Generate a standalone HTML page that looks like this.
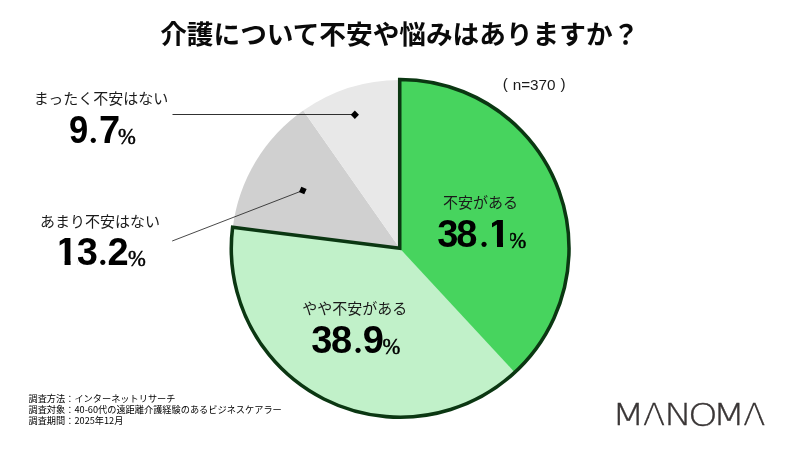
<!DOCTYPE html>
<html lang="ja">
<head>
<meta charset="utf-8">
<title>介護について不安や悩みはありますか？</title>
<style>
html,body{margin:0;padding:0;background:#fff;}
body{width:800px;height:450px;position:relative;overflow:hidden;font-family:"Liberation Sans","Noto Sans CJK JP",sans-serif;color:#111;}
.abs{position:absolute;white-space:nowrap;line-height:1;}
#title{left:-0.3px;width:800px;top:20px;text-align:center;font-family:"Noto Sans CJK JP","Liberation Sans",sans-serif;font-weight:700;font-size:26.67px;color:#0a0a0a;}
.lbl{font-family:"Noto Sans CJK JP","Liberation Sans",sans-serif;font-weight:400;font-size:15px;color:#1a1a1a;}
#foot{left:28.5px;top:392.9px;font-family:"Noto Sans CJK JP","Liberation Sans",sans-serif;font-size:9.2px;line-height:11.2px;color:#000;white-space:nowrap;}
svg{position:absolute;left:0;top:0;}
</style>
</head>
<body>
<svg width="800" height="450" viewBox="0 0 800 450">
  <!-- grey slices -->
  <path d="M400,248.4 L232.83,227.28 A168.5,168.5 0 0 1 303.23,110.46 Z" fill="#d0d0d0"/>
  <path d="M400,248.4 L303.23,110.46 A168.5,168.5 0 0 1 400,79.90 Z" fill="#e8e8e8"/>
  <!-- green slices -->
  <path d="M399.73,248.35 L399.73,79.48 A168.87,168.87 0 1 1 232.61,227.24 Z" fill="#c1f1c9"/>
  <path d="M399.73,248.35 L399.73,79.48 A168.87,168.87 0 0 1 514.75,372.38 Z" fill="#47d45e"/>
  <path d="M399.73,248.35 L399.73,79.48 A168.87,168.87 0 1 1 232.61,227.24 Z" fill="none" stroke="#0b3712" stroke-width="3.55" stroke-linejoin="miter"/>
  <!-- leader lines -->
  <line x1="172.5" y1="114.5" x2="355" y2="114.5" stroke="#1a1a1a" stroke-width="0.9"/>
  <path d="M0,-4.2 L4.1,0 L0,4.2 L-4.1,0 Z" fill="#000" transform="translate(354.85,114.7)"/>
  <line x1="172.2" y1="241" x2="302.8" y2="190.5" stroke="#1a1a1a" stroke-width="0.8"/>
  <path d="M0,-4.1 L4.1,0 L0,4.1 L-4.1,0 Z" fill="#000" transform="translate(302.8,190.5) rotate(-21)"/>
  <!-- numbers -->
  <defs>
    <clipPath id="c13"><rect x="59.63" y="225" width="10.97" height="35.7"/><rect x="64.58" y="260" width="6.02" height="8"/><rect x="77.9" y="225" width="120" height="50"/></clipPath>
    <clipPath id="c38"><rect x="430" y="205" width="58.5" height="50"/><rect x="492.03" y="205" width="10.97" height="38.1"/><rect x="496.98" y="242.5" width="6.02" height="8"/><rect x="510.2" y="205" width="40" height="50"/></clipPath>
    <clipPath id="cl"><path clip-rule="evenodd" d="M600,390 H790 V440 H600 Z M654.02,405.04 L663.48,429.02 H644.57 Z M754.22,405.04 L763.68,429.02 H744.77 Z"/></clipPath>
  </defs>
  <style>
    .n{font-family:"Liberation Sans",sans-serif;font-weight:700;font-size:38px;fill:#000;}
    .d{font-family:"Noto Sans CJK JP","Liberation Sans",sans-serif;font-size:28px;}
    .p{font-family:"Liberation Serif",serif;font-weight:400;font-size:23px;fill:#000;stroke:#000;stroke-width:0.5px;}
  </style>
  <text class="n" y="143.2"><tspan x="69" textLength="19.2" lengthAdjust="spacingAndGlyphs">9</tspan><tspan class="d" x="88.8">.</tspan><tspan x="99">7</tspan><tspan class="p" x="118" y="143.8" textLength="17.82" lengthAdjust="spacingAndGlyphs">%</tspan></text>
  <text class="n" y="265" clip-path="url(#c13)"><tspan x="54.4" textLength="24.3" lengthAdjust="spacingAndGlyphs">1</tspan><tspan x="76.7">3</tspan><tspan class="d" x="98.3">.</tspan><tspan x="107.4">2</tspan><tspan class="p" x="128" y="265.6" textLength="17.82" lengthAdjust="spacingAndGlyphs">%</tspan></text>
  <text class="n" y="247.4" clip-path="url(#c38)"><tspan x="437.2 456.3">38</tspan><tspan class="d" x="479.5">.</tspan><tspan x="486.8" textLength="24.3" lengthAdjust="spacingAndGlyphs">1</tspan><tspan class="p" x="508.4" y="248" textLength="17.82" lengthAdjust="spacingAndGlyphs">%</tspan></text>
  <text class="n" y="353.4"><tspan x="311.2 330.9">38</tspan><tspan class="d" x="353.5">.</tspan><tspan x="362.8">9</tspan><tspan class="p" x="382.4" y="354" textLength="17.82" lengthAdjust="spacingAndGlyphs">%</tspan></text>
  <text font-family="'Liberation Sans',sans-serif" font-size="15.3" fill="#1a1a1a"><tspan x="502.7" y="88.6">(</tspan><tspan x="508.4" y="89.9"> n=370 </tspan><tspan x="560.4" y="88.6">)</tspan></text>
  <!-- logo -->
  <text id="logo" y="425.15" clip-path="url(#cl)" font-family="'DejaVu Sans','Liberation Sans',sans-serif" font-weight="200" font-size="30.9" fill="#3a3636" stroke="#3a3636" stroke-width="0.3"><tspan x="611.7" textLength="33.06" lengthAdjust="spacingAndGlyphs">M</tspan><tspan x="643.1" textLength="22.2" lengthAdjust="spacingAndGlyphs">A</tspan><tspan x="664.1" textLength="28.2" lengthAdjust="spacingAndGlyphs">N</tspan><tspan x="688.13" y="425.7" font-size="32.3" textLength="29.82" lengthAdjust="spacingAndGlyphs">O</tspan><tspan x="712.6" y="425.15" textLength="32.79" lengthAdjust="spacingAndGlyphs">M</tspan><tspan x="743.3" textLength="22.2" lengthAdjust="spacingAndGlyphs">A</tspan></text>
  </svg>
<div id="title" class="abs">介護について不安や悩みはありますか？</div>

<div class="abs lbl" style="left:33.8px;top:89.8px;">まったく不安はない</div>

<div class="abs lbl" style="left:40px;top:212.5px;">あまり不安はない</div>

<div class="abs lbl" style="left:443px;top:194.4px;">不安がある</div>

<div class="abs lbl" style="left:302.3px;top:299.8px;">やや不安がある</div>

<div id="foot" class="abs">調査方法：インターネットリサーチ<br>調査対象：40-60代の遠距離介護経験のあるビジネスケアラー<br>調査期間：2025年12月</div>
</body>
</html>
